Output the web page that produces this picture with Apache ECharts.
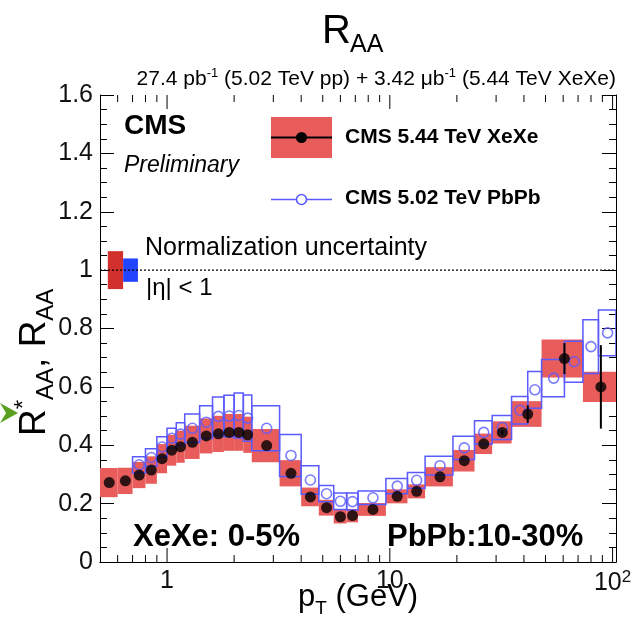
<!DOCTYPE html>
<html><head><meta charset="utf-8">
<script src="https://cdn.jsdelivr.net/npm/echarts@6/dist/echarts.min.js"></script>
<style>html,body{margin:0;padding:0;background:#fff}#c{width:637px;height:628px}</style>
</head><body><div id="c"></div>
<script>
// ---------------- data ----------------
const xexeEdges = [0.5,0.6,0.7,0.8,0.9,1.0,1.1,1.2,1.4,1.6,1.8,2.0,2.2,2.4,3.2,4.0,4.8,5.6,6.4,7.2,9.6,12,14.4,19.2,24,28.8,35.2,48,73.6,103.6];
const xexeValues = [0.272,0.278,0.298,0.315,0.354,0.383,0.395,0.410,0.432,0.439,0.444,0.444,0.436,0.399,0.304,0.223,0.186,0.155,0.159,0.180,0.225,0.242,0.292,0.347,0.405,0.444,0.507,0.697,0.600];
const xexeSys = [0.050,0.045,0.045,0.047,0.050,0.053,0.055,0.057,0.060,0.062,0.063,0.063,0.062,0.057,0.045,0.032,0.027,0.023,0.023,0.022,0.024,0.024,0.033,0.037,0.035,0.038,0.044,0.065,0.052];
const xexeStat = [0,0,0,0,0,0,0,0,0,0,0,0,0,0,0,0,0,0,0,0,0,0,0,0,0,0.008,0.030,0.053,0.143];

const pbpbEdges = [0.7,0.8,0.9,1.0,1.1,1.2,1.4,1.6,1.8,2.0,2.2,2.4,3.2,4.0,4.8,5.6,6.4,7.2,9.6,12,14.4,19.2,24,28.8,35.2,41.6,48,60.8,73.6,86.4,103.6];
const pbpbValues = [0.333,0.358,0.394,0.424,0.438,0.458,0.479,0.499,0.500,0.502,0.493,0.458,0.365,0.281,0.234,0.208,0.207,0.220,0.260,0.280,0.330,0.391,0.444,0.461,0.520,0.590,0.630,0.686,0.738,0.785];
const pbpbSys = [0.028,0.030,0.035,0.034,0.039,0.049,0.056,0.066,0.071,0.077,0.079,0.077,0.072,0.049,0.028,0.028,0.029,0.023,0.026,0.027,0.032,0.040,0.040,0.041,0.047,0.063,0.064,0.070,0.092,0.078];

const normEdges = [0.542,0.635,0.74];   // red box then blue box
const normHalf = [0.065,0.040];
const refLineValue = 1;

const xMajorTicks = [1,10,100];
const xMinorTicks = [0.6,0.7,0.8,0.9,2,3,4,5,6,7,8,9,20,30,40,50,60,70,80,90];
const xMin = 0.5, xMax = 103.6;
const yMin = 0, yMax = 1.6, yStep = 0.2;

// ---------------- build ----------------
const FONT = '"Liberation Sans", Arial, Helvetica, sans-serif';
const RED = '#e85c5c', BLUE = '#5a5aff';

const mid = (e, i) => (e[i] + e[i + 1]) / 2;
const xexeBoxes = xexeValues.map((v, i) => [xexeEdges[i], xexeEdges[i + 1], v, xexeSys[i]]);
const pbpbBoxes = pbpbValues.map((v, i) => [pbpbEdges[i], pbpbEdges[i + 1], v, pbpbSys[i]]);
const xexePts = xexeValues.map((v, i) => [mid(xexeEdges, i), v]);
const pbpbPts = pbpbValues.map((v, i) => [mid(pbpbEdges, i), v]);
const xexeErr = xexeValues.map((v, i) => [mid(xexeEdges, i), v, xexeStat[i]]).filter(d => d[2] > 0);
const normBoxes = normHalf.map((h, i) => [normEdges[i], normEdges[i + 1], refLineValue, h]);

function rectRender(fill, stroke, lw) {
  return function (params, api) {
    const a = api.coord([api.value(0), api.value(2) + api.value(3)]);
    const b = api.coord([api.value(1), api.value(2) - api.value(3)]);
    return { type: 'rect', shape: { x: a[0], y: a[1], width: b[0] - a[0], height: b[1] - a[1] },
      style: { fill: fill, stroke: stroke, lineWidth: lw } };
  };
}
function tickRender(len) {
  return function (params, api) {
    const v = api.value(0);
    const bot = api.coord([v, yMin]), top = api.coord([v, yMax]);
    return { type: 'group', children: [
      { type: 'line', shape: { x1: bot[0], y1: bot[1], x2: bot[0], y2: bot[1] - len }, style: { stroke: '#000', lineWidth: 1 } },
      { type: 'line', shape: { x1: top[0], y1: top[1], x2: top[0], y2: top[1] + len }, style: { stroke: '#000', lineWidth: 1 } }
    ] };
  };
}

const isNear = (v, t) => Math.abs(v - t) < 1e-6 * t;
const yAxisCommon = {
  type: 'value', min: yMin, max: yMax, interval: yStep,
  axisLine: { show: true, lineStyle: { color: '#000', width: 1 } },
  axisTick: { show: true, inside: true, length: 14, lineStyle: { color: '#000' } },
  minorTick: { show: true, splitNumber: 4, length: 7, lineStyle: { color: '#000' } },
  splitLine: { show: false }
};

const option = {
  animation: false,
  backgroundColor: '#fff',
  grid: { left: 100, right: 21, top: 95, bottom: 66 },
  xAxis: [{
    type: 'log', logBase: 10, min: xMin, max: xMax,
    axisLine: { show: true, lineStyle: { color: '#000', width: 1 } },
    axisTick: { show: false }, splitLine: { show: false }, minorTick: { show: false },
    axisLabel: {
      show: true, margin: 7, color: '#111', fontFamily: FONT, fontSize: 25,
      showMinLabel: true, showMaxLabel: true,
      formatter: function (v) {
        if (isNear(v, 1)) return '1';
        if (isNear(v, 10)) return '10';
        if (isNear(v, 100)) return '{b|10}{s|2}';
        return '';
      },
      rich: { b: { fontSize: 25, fontFamily: FONT, color: '#111', lineHeight: 28 },
              s: { fontSize: 17, fontFamily: FONT, color: '#111', verticalAlign: 'top', lineHeight: 28 } }
    }
  }, {
    type: 'log', logBase: 10, min: xMin, max: xMax, position: 'top',
    axisLine: { show: true, lineStyle: { color: '#000', width: 1 } },
    axisTick: { show: false }, axisLabel: { show: false }, splitLine: { show: false }
  }],
  yAxis: [Object.assign({}, yAxisCommon, {
    position: 'left',
    axisLabel: { show: true, margin: 7, color: '#111', fontFamily: FONT, fontSize: 25,
      formatter: v => (Math.round(v * 10) / 10).toString() }
  }), Object.assign({}, yAxisCommon, { position: 'right', axisLabel: { show: false } })],
  series: [
    { type: 'custom', name: 'xexeSys', renderItem: rectRender(RED, null, 0), data: xexeBoxes,
      encode: { x: [0, 1], y: 2 }, clip: true, z: 2 },
    { type: 'custom', name: 'normBoxes', clip: false, z: 2, encode: { x: [0, 1], y: 2 },
      data: normBoxes,
      renderItem: function (params, api) {
        const a = api.coord([api.value(0), api.value(2) + api.value(3)]);
        const b = api.coord([api.value(1), api.value(2) - api.value(3)]);
        return { type: 'rect', shape: { x: a[0], y: a[1], width: b[0] - a[0], height: b[1] - a[1] },
          style: { fill: params.dataIndex === 0 ? '#d2302c' : '#2244ff' } };
      } },
    { type: 'custom', name: 'pbpbSys', renderItem: rectRender('none', BLUE, 1.5), data: pbpbBoxes,
      encode: { x: [0, 1], y: 2 }, clip: true, z: 3 },
    { type: 'line', name: 'ref', data: [[xMin, refLineValue], [xMax, refLineValue]], symbol: 'none',
      lineStyle: { color: '#000', width: 1.3, type: [2, 2] }, z: 4, silent: true },
    { type: 'scatter', name: 'CMS 5.02 TeV PbPb', data: pbpbPts, symbol: 'circle', symbolSize: 10,
      itemStyle: { color: 'rgba(0,0,0,0)', borderColor: BLUE, borderWidth: 1.6 }, z: 5 },
    { type: 'custom', name: 'xexeStat', data: xexeErr, encode: { x: 0, y: 1 }, clip: true, z: 6,
      renderItem: function (params, api) {
        const c = api.value(0), v = api.value(1), s = api.value(2);
        const a = api.coord([c, v + s]), b = api.coord([c, v - s]);
        return { type: 'line', shape: { x1: a[0], y1: a[1], x2: b[0], y2: b[1] }, style: { stroke: '#000', lineWidth: 2 } };
      } },
    { type: 'scatter', name: 'CMS 5.44 TeV XeXe', data: xexePts, symbol: 'circle', symbolSize: 11,
      itemStyle: { color: '#000' }, z: 7 },
    { type: 'custom', name: 'xMinorTicks', data: xMinorTicks.map(v => [v, yMin]), encode: { x: 0, y: 1 },
      renderItem: tickRender(7), clip: false, z: 8, silent: true },
    { type: 'custom', name: 'xMajorTicks', data: xMajorTicks.map(v => [v, yMin]), encode: { x: 0, y: 1 },
      renderItem: tickRender(14), clip: false, z: 8, silent: true }
  ],
  graphic: [
    // title
    { type: 'text', left: 322, top: 12, style: { text: 'R', font: '40px ' + FONT, fill: '#000' } },
    { type: 'text', left: 350, top: 33, style: { text: 'AA', font: '25px ' + FONT, fill: '#000' } },
    // luminosity line
    { type: 'text', right: 21, top: 67, style: {
      text: '{n|27.4 pb}{s|-1}{n| (5.02 TeV pp) + 3.42 \u03bcb}{s|-1}{n| (5.44 TeV XeXe)}',
      rich: { n: { fontSize: 21, fontFamily: FONT, fill: '#000', lineHeight: 25 },
              s: { fontSize: 13, fontFamily: FONT, fill: '#000', verticalAlign: 'top', lineHeight: 25 } } } },
    // CMS Preliminary
    { type: 'text', left: 124, top: 112, style: { text: 'CMS', font: 'bold 28px ' + FONT, fill: '#000' } },
    { type: 'text', left: 124, top: 154, style: { text: 'Preliminary', font: 'italic 23px ' + FONT, fill: '#000' } },
    // legend
    { type: 'rect', shape: { x: 271, y: 117, width: 61, height: 41 }, style: { fill: RED } },
    { type: 'line', shape: { x1: 271, y1: 137.5, x2: 332, y2: 137.5 }, style: { stroke: '#000', lineWidth: 2 } },
    { type: 'circle', shape: { cx: 301.5, cy: 137.5, r: 5.5 }, style: { fill: '#000' } },
    { type: 'text', left: 345, top: 127, style: { text: 'CMS 5.44 TeV XeXe', font: 'bold 21px ' + FONT, fill: '#000' } },
    { type: 'line', shape: { x1: 271, y1: 199.5, x2: 332, y2: 199.5 }, style: { stroke: BLUE, lineWidth: 1.5 } },
    { type: 'circle', shape: { cx: 301.5, cy: 199.5, r: 5 }, style: { fill: '#fff', stroke: BLUE, lineWidth: 1.6 } },
    { type: 'text', left: 345, top: 188, style: { text: 'CMS 5.02 TeV PbPb', font: 'bold 21px ' + FONT, fill: '#000' } },
    // normalization text
    { type: 'text', left: 145, top: 236, style: { text: 'Normalization uncertainty', font: '25px ' + FONT, fill: '#000' } },
    { type: 'text', left: 146, top: 276, style: { text: '|\u03b7| < 1', font: '24px ' + FONT, fill: '#000' } },
    // centrality labels
    { type: 'text', left: 133, top: 522, style: { text: 'XeXe: 0-5%', font: 'bold 31px ' + FONT, fill: '#000' } },
    { type: 'text', left: 387, top: 522, style: { text: 'PbPb:10-30%', font: 'bold 31px ' + FONT, fill: '#000' } },
    // x-axis title
    { type: 'text', left: 298, top: 582, style: {
      text: '{n|p}{t|T}{n| (GeV)}',
      rich: { n: { fontSize: 31, fontFamily: FONT, fill: '#000', lineHeight: 42 },
              t: { fontSize: 19, fontFamily: FONT, fill: '#000', verticalAlign: 'bottom', lineHeight: 42 } } } },
    // y-axis title (rotated)
    { type: 'text', x: 12, y: 436, rotation: Math.PI / 2, style: {
      text: '{n|R}{p|*}{t|AA}{n|, R}{t|AA}',
      rich: { n: { fontSize: 37, fontFamily: FONT, fill: '#000', lineHeight: 46 },
              p: { fontSize: 24, fontFamily: FONT, fill: '#000', verticalAlign: 'top', lineHeight: 46 },
              t: { fontSize: 24, fontFamily: FONT, fill: '#000', verticalAlign: 'bottom', lineHeight: 46 } } } },
    // green arrow (slide artifact)
    { type: 'polygon', shape: { points: [[0, 403], [18, 413], [0, 423], [6, 413]] }, style: { fill: '#5aa020' } }
  ]
};
const chart = echarts.init(document.getElementById('c'));
chart.setOption(option);
</script>
</body></html>
